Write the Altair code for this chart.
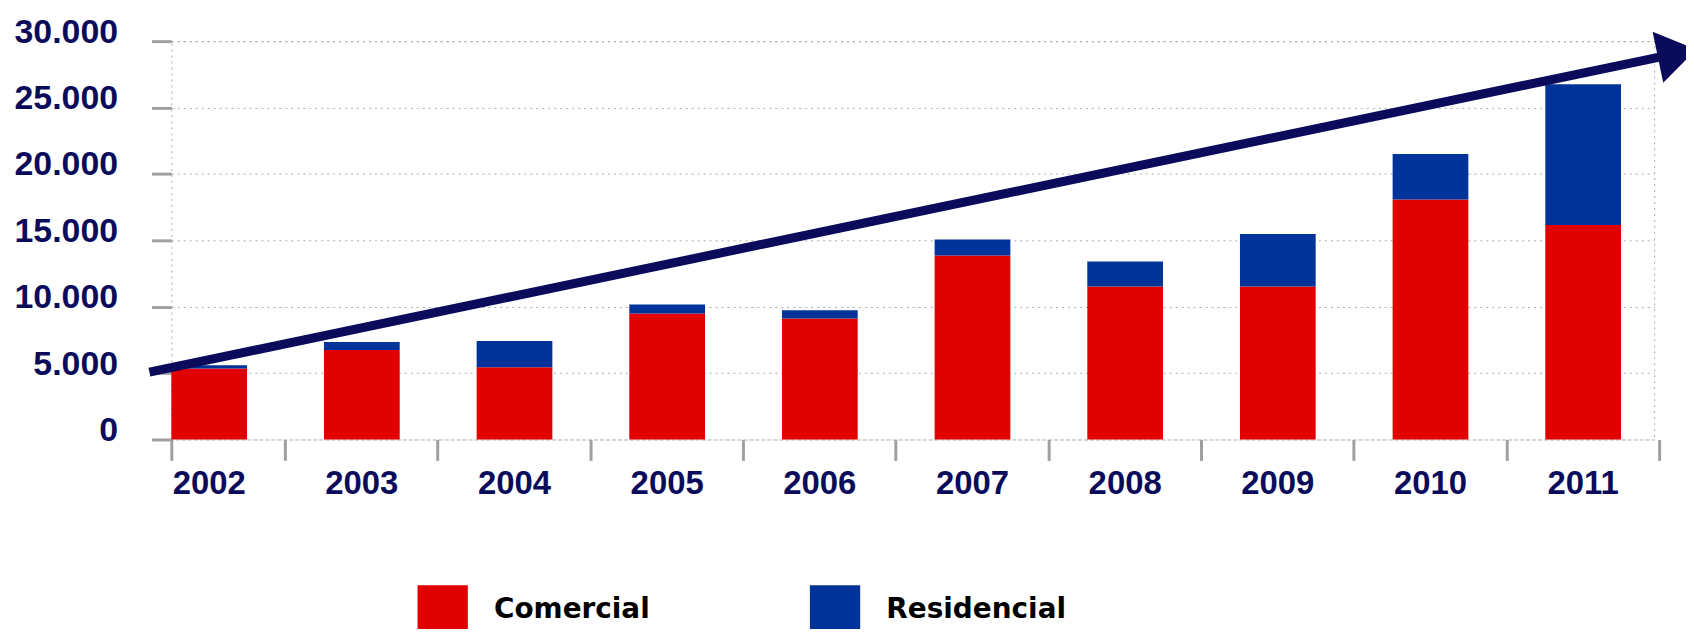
import altair as alt
import pandas as pd

years = ["2002", "2003", "2004", "2005", "2006", "2007", "2008", "2009", "2010", "2011"]
comercial = [5340, 6740, 5440, 9480, 9110, 13850, 11530, 11530, 18070, 16150]
residencial = [250, 600, 1970, 680, 620, 1220, 1870, 3940, 3440, 10600]
series = ["Comercial", "Residencial"]
colors = ["#e00000", "#003399"]
y_ticks = [0, 5000, 10000, 15000, 20000, 25000, 30000]
trend_start = 5070
trend_end = 28860
trend_head = 29080

rows = []
for i, yr in enumerate(years):
    rows.append({"ano": yr, "serie": "Comercial", "valor": comercial[i], "ord": 0})
    rows.append({"ano": yr, "serie": "Residencial", "valor": residencial[i], "ord": 1})
df = pd.DataFrame(rows)

W, H = 1489, 400
NAVY = "#0b0b5b"

bars = alt.Chart(df).mark_bar().encode(
    x=alt.X("ano:N", sort=years, title=None,
            scale=alt.Scale(paddingInner=0.504, paddingOuter=0.1085, align=0),
            axis=alt.Axis(labelAngle=0, labelFont="Liberation Sans", labelFontSize=33,
                          labelFontWeight="bold", labelColor=NAVY, labelPadding=7,
                          tickColor="#a0a0a0", tickWidth=3, tickSize=21,
                          bandPosition=1.508, tickExtra=True,
                          domain=False, grid=False)),
    y=alt.Y("valor:Q", stack="zero", title=None,
            scale=alt.Scale(domain=[0, 30000], nice=False),
            axis=alt.Axis(values=y_ticks,
                          labelExpr="replace(format(datum.value, ','), ',', '.')",
                          labelFont="Liberation Sans", labelFontSize=34, labelFontWeight="bold",
                          labelColor=NAVY, labelPadding=34, labelOffset=-9,
                          tickColor="#a0a0a0", tickWidth=3, tickSize=20,
                          domain=False, grid=True, gridColor="#aaaaaa",
                          gridDash=[2, 4], gridWidth=1)),
    color=alt.Color("serie:N", scale=alt.Scale(domain=series, range=colors),
                    legend=alt.Legend(title=None, orient="none", legendX=247, legendY=546,
                                      direction="horizontal", symbolType="square",
                                      symbolSize=2550, symbolStrokeWidth=0, symbolOpacity=1,
                                      labelFont="DejaVu Sans", labelFontSize=28,
                                      labelFontWeight="bold", labelColor="#000000",
                                      labelOffset=26, columnPadding=160, labelLimit=400,
                                      padding=0)),
    order=alt.Order("ord:Q"),
)

trend_df = pd.DataFrame({"start": [trend_start], "end": [trend_end], "head": [trend_head]})

line = alt.Chart(trend_df).mark_rule(color=NAVY, strokeWidth=9, strokeCap="butt").encode(
    x=alt.value(-22), x2=alt.value(W + 9),
    y=alt.Y("start:Q"), y2=alt.Y2("end:Q"),
)

head = alt.Chart(trend_df).mark_point(
    shape="M -0.45 -0.6 L 0.45 0 L -0.45 0.6 Z", filled=True, color=NAVY,
    opacity=1, size=7600, angle=348.2, strokeWidth=0,
).encode(
    x=alt.value(W + 23),
    y=alt.Y("head:Q"),
)

chart = alt.layer(bars, line, head).properties(
    width=W, height=H,
    autosize=alt.AutoSizeParams(type="none"),
    padding={"left": 164, "top": 32, "right": 32, "bottom": 189},
).configure_view(
    stroke="#aaaaaa", strokeDash=[2, 4], strokeWidth=1
)

chart.save("out.html", embed_options={"renderer": "svg", "actions": False})
